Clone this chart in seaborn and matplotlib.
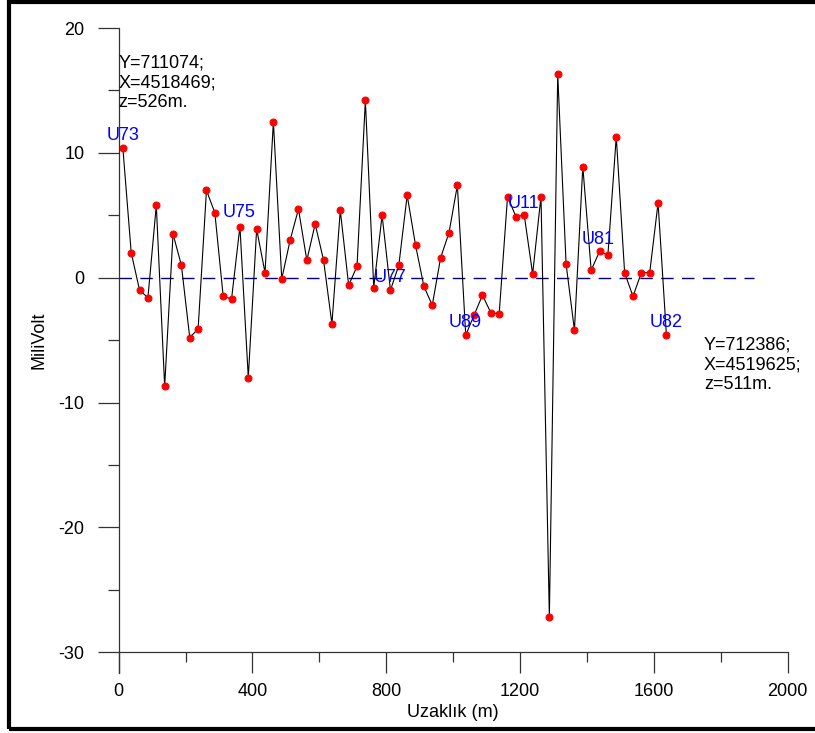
import matplotlib
matplotlib.use("Agg")
import matplotlib.pyplot as plt
import seaborn as sns
import pandas as pd
from matplotlib.patches import Rectangle

# profile data: distance (m) vs self-potential (mV)
distance = [12.5, 37.5, 62.5, 87.5, 112.5, 137.5, 162.5, 187.5, 212.5, 237.5,
            262.5, 287.5, 312.5, 337.5, 362.5, 387.5, 412.5, 437.5, 462.5, 487.5,
            512.5, 537.5, 562.5, 587.5, 612.5, 637.5, 662.5, 687.5, 712.5, 737.5,
            762.5, 787.5, 812.5, 837.5, 862.5, 887.5, 912.5, 937.5, 962.5, 987.5,
            1012.5, 1037.5, 1062.5, 1087.5, 1112.5, 1137.5, 1162.5, 1187.5, 1212.5, 1237.5,
            1262.5, 1287.5, 1312.5, 1337.5, 1362.5, 1387.5, 1412.5, 1437.5, 1462.5, 1487.5,
            1512.5, 1537.5, 1562.5, 1587.5, 1612.5, 1637.5]
millivolt = [10.4, 2.0, -1.0, -1.6, 5.8, -8.7, 3.5, 1.0, -4.8, -4.1,
             7.0, 5.2, -1.5, -1.7, 4.1, -8.0, 3.9, 0.4, 12.5, -0.1,
             3.0, 5.5, 1.4, 4.3, 1.4, -3.7, 5.4, -0.6, 0.9, 14.2,
             -0.8, 5.0, -1.0, 1.0, 6.6, 2.6, -0.7, -2.2, 1.6, 3.6,
             7.4, -4.6, -3.0, -1.4, -2.8, -2.9, 6.5, 4.9, 5.0, 0.3,
             6.5, -27.2, 16.3, 1.1, -4.2, 8.9, 0.6, 2.1, 1.8, 11.3,
             0.4, -1.5, 0.4, 0.4, 6.0, -4.6]

# station labels and where they sit
station_names = ["U73", "U75", "U77", "U89", "U11", "U81", "U82"]
station_x = [13, 360, 811, 1035, 1209, 1433, 1636]
station_y = [11.4, 5.2, 0.0, -3.6, 5.95, 3.07, -3.6]

start_text = "Y=711074;\nX=4518469;\nz=526m."
end_text = "Y=712386;\nX=4519625;\nz=511m."
start_pos = (0, 15.6)
end_pos = (1750, -7.0)

zero_line_x = [0, 1900]
zero_line_y = [0, 0]

df = pd.DataFrame({"Uzaklik": distance, "mV": millivolt})

sns.set_style("white")
plt.rcParams["font.family"] = ["Liberation Sans", "DejaVu Sans"]
plt.rcParams["axes.unicode_minus"] = False
plt.rcParams["text.color"] = "black"
plt.rcParams["xtick.labelcolor"] = "black"
plt.rcParams["ytick.labelcolor"] = "black"
plt.rcParams["axes.labelcolor"] = "black"

fig = plt.figure(figsize=(8.15, 7.33), dpi=100)
ax = fig.add_axes([0.1456, 0.1102, 0.8209, 0.8516])

ax.plot(zero_line_x, zero_line_y, color="#000080", lw=1.0, dashes=(9, 6))
sns.lineplot(data=df, x="Uzaklik", y="mV", ax=ax, sort=False, color="black",
             lw=0.8, marker="o", markersize=5, markerfacecolor="red",
             markeredgecolor="red")

for name, sx, sy in zip(station_names, station_x, station_y):
    ax.text(sx, sy, name, color="blue", fontsize=13, ha="center", va="center")

ax.text(start_pos[0], start_pos[1], start_text, fontsize=13, ha="left",
        va="center", linespacing=1.2, color="black")
ax.text(end_pos[0], end_pos[1], end_text, fontsize=13, ha="left",
        va="center", linespacing=1.2, color="black", clip_on=False)

ax.set_xlim(0, 2000)
ax.set_ylim(-30, 20)
ax.set_xticks([0, 400, 800, 1200, 1600, 2000])
ax.set_xticks([200, 600, 1000, 1400, 1800], minor=True)
ax.set_yticks([-30, -20, -10, 0, 10, 20])
ax.set_yticks([-25, -15, -5, 5, 15], minor=True)

axis_col = "#333333"
for s in ["top", "right"]:
    ax.spines[s].set_visible(False)
ax.spines["left"].set_bounds(-31.65, 20)
ax.spines["left"].set_color(axis_col)
ax.spines["bottom"].set_color(axis_col)
ax.spines["left"].set_linewidth(0.9)
ax.spines["bottom"].set_linewidth(0.9)

ax.tick_params(axis="x", which="major", direction="out", length=15, width=0.9,
               color=axis_col, labelsize=13, pad=7.5, bottom=True,
               labelcolor="black")
ax.tick_params(axis="x", which="minor", direction="out", length=7.5, width=0.9,
               color=axis_col, bottom=True)
ax.tick_params(axis="y", which="major", direction="out", length=15, width=0.9,
               color=axis_col, labelsize=13, pad=9.5, left=True,
               labelcolor="black")
ax.tick_params(axis="y", which="minor", direction="out", length=8, width=0.9,
               color=axis_col, left=True)

ax.set_xlabel("Uzaklık (m)", fontsize=13, color="black")
ax.set_ylabel("MiliVolt", fontsize=13, color="black")
ax.xaxis.set_label_coords(0.5, -0.096)
ax.xaxis.label.set_va("center")
ax.yaxis.set_label_coords(-0.119, 0.5)
ax.yaxis.label.set_va("center")
ax.grid(False)

fig.add_artist(Rectangle((0.011, 0.0055), 1.2, 0.9915, transform=fig.transFigure,
                         fill=False, lw=3, color="black", clip_on=False))

fig.savefig("out.png", dpi=100)
